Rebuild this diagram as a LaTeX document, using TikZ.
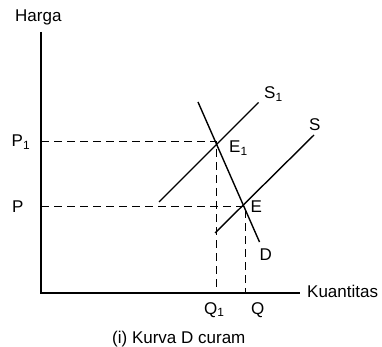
\documentclass[tikz,border=0pt]{standalone}
\usepackage{fontspec}
\setmainfont{Liberation Sans}
\begin{document}
\begin{tikzpicture}[x=1pt,y=-1pt,
  lbl/.style={inner sep=0pt,anchor=base west,font=\fontsize{17}{20}\selectfont},
  axis/.style={line width=1.1pt},
  curve/.style={line width=1.4pt},
  guide/.style={line width=1pt,dash pattern=on 8pt off 5pt}]
\useasboundingbox (0,0) rectangle (382,347);
% axes
\coordinate (O) at (41,293);
\coordinate (Ytop) at (41,32);
\coordinate (Xend) at (300,293);
\draw[axis] (Ytop) -- (O) -- (Xend);
\node[lbl] (harga) at (15,22) {Harga};
\node[lbl] (kuant) at (307,297) {Kuantitas};
% equilibrium points
\coordinate (E1) at (216,142);
\coordinate (E) at (245,206);
\coordinate (P1a) at (41,142);
\coordinate (Pa) at (41,206);
\coordinate (Q1a) at (216,293);
\coordinate (Qa) at (245,293);
% guides
\draw[guide] (P1a) -- (E1) -- (Q1a);
\draw[guide] (Pa) -- (E) -- (Qa);
% curves
\coordinate (Dtop) at (198,102);
\coordinate (Dbot) at (259.5,242);
\coordinate (S1a) at (159,202);
\coordinate (S1b) at (258.5,102.5);
\coordinate (Sa) at (215,233);
\coordinate (Sb) at (314,135);
\draw[curve] (Dtop) -- (Dbot);
\draw[curve] (S1a) -- (S1b);
\draw[curve] (Sa) -- (Sb);
% labels
\node[lbl] (lS1) at (264,99) {S\textsubscript{1}};
\node[lbl] (lS) at (309,131) {S};
\node[lbl] (lE1) at (229,153) {E\textsubscript{1}};
\node[lbl] (lE) at (250.5,212) {E};
\node[lbl] (lD) at (259.5,260) {D};
\node[lbl] (lP1) at (11.5,146.5) {P\textsubscript{1}};
\node[lbl] (lP) at (12,212) {P};
\node[lbl] (lQ1) at (204,314) {Q\textsubscript{1}};
\node[lbl] (lQ) at (251,314) {Q};
\node[lbl] (cap) at (112,343) {(i) Kurva D curam};
\end{tikzpicture}
\end{document}
